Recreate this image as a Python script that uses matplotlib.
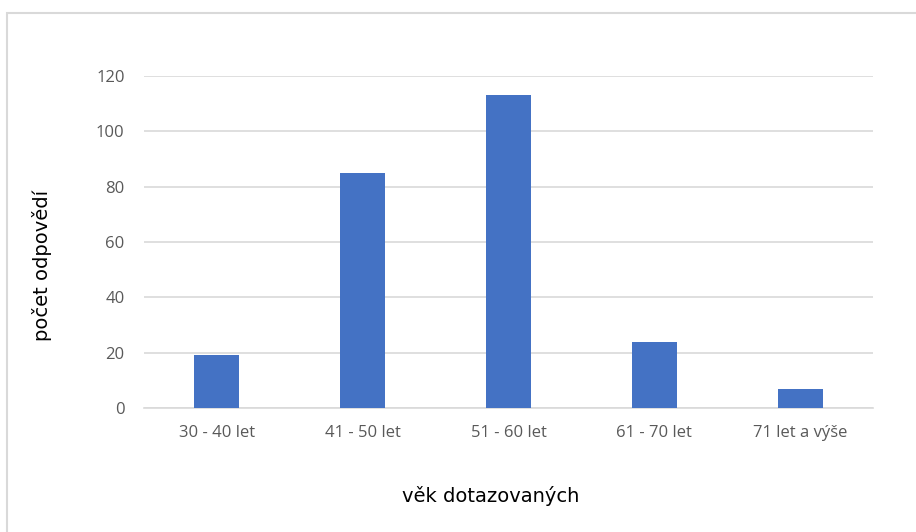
import matplotlib.pyplot as plt
from matplotlib.patches import Rectangle

# data
categories = ["30 - 40 let", "41 - 50 let", "51 - 60 let", "61 - 70 let", "71 let a výše"]
counts = [19, 85, 113, 24, 7]
yticks = [0, 20, 40, 60, 80, 100, 120]

W, H = 916, 532
fig = plt.figure(figsize=(W / 100, H / 100), dpi=100)

# chart border (runs off the right and bottom edges)
fig.patches.append(Rectangle((7 / W, -0.05), 1.1, 1 - 13 / H + 0.05,
                             transform=fig.transFigure, fill=False,
                             edgecolor="#d9d9d9", linewidth=1.5))

ax = fig.add_axes([144 / W, 1 - 408 / H, (873 - 144) / W, (408 - 76) / H])
x = range(len(categories))
ax.bar(x, counts, width=0.31, color="#4472c4", zorder=3)

ax.set_xlim(-0.5, len(categories) - 0.5)
ax.set_ylim(0, 120)
ax.set_yticks(yticks)
ax.set_xticks(list(x))
ax.set_xticklabels(categories)

ax.grid(axis="y", color="#d9d9d9", linewidth=1.2, zorder=0)
for s in ["top", "right", "left"]:
    ax.spines[s].set_visible(False)
ax.spines["bottom"].set_color("#d9d9d9")
ax.spines["bottom"].set_linewidth(1.2)
ax.tick_params(axis="both", length=0, labelsize=12, labelcolor="#595959")
ax.tick_params(axis="y", pad=14)
ax.tick_params(axis="x", pad=12)
for lbl in ax.get_xticklabels() + ax.get_yticklabels():
    lbl.set_family("Open Sans")

ax.set_ylabel("počet odpovědí", fontsize=14, color="black")
ax.set_xlabel("věk dotazovaných", fontsize=14, color="black")
ax.yaxis.set_label_coords(-0.126, 0.43)
ax.xaxis.set_label_coords(0.475, -0.235)

fig.savefig("out.png", dpi=100)
